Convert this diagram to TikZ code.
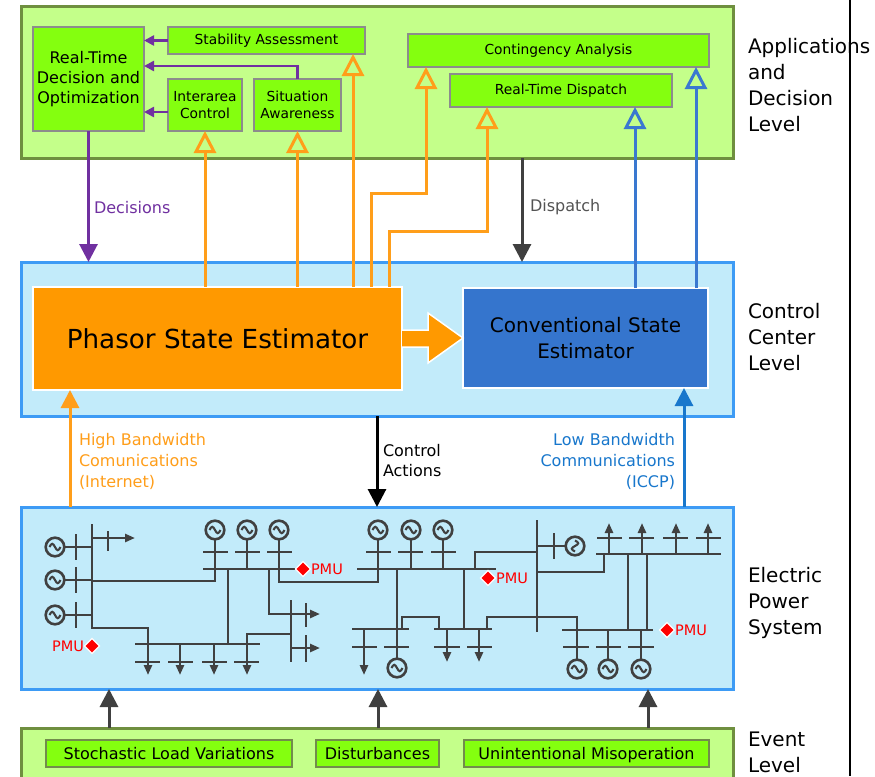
\documentclass[tikz,border=0pt]{standalone}
\usepackage{fontspec}
\setmainfont{DejaVu Sans}
\usetikzlibrary{arrows.meta}
\definecolor{appfill}{HTML}{C4FF8A}
\definecolor{appedge}{HTML}{6F8F3F}
\definecolor{boxfill}{HTML}{84FF0F}
\definecolor{boxedge}{HTML}{8C8C8C}
\definecolor{ccfill}{HTML}{C2EBFA}
\definecolor{ccedge}{HTML}{3D9BF5}
\definecolor{pseorange}{HTML}{FF9900}
\definecolor{cseblue}{HTML}{3575CD}
\definecolor{arrorange}{HTML}{FF9E1A}
\definecolor{arrblue}{HTML}{3A78D0}
\definecolor{lowblue}{HTML}{1877CC}
\definecolor{purp}{HTML}{7030A0}
\definecolor{dgray}{HTML}{404040}
\begin{document}
\begin{tikzpicture}[x=1pt,y=-1pt,
  every node/.style={inner sep=0pt,outer sep=0pt},
  container/.style={draw=#1,line width=3pt,rectangle},
  abox/.style={draw=boxedge,fill=boxfill,line width=2.4pt,rectangle,align=center,
    font=\fontsize{13.8}{17}\selectfont},
  ebox/.style={draw=appedge!80!gray,fill=boxfill,line width=2.4pt,rectangle,align=center,
    text height=13.5pt,text depth=2pt,font=\fontsize{16}{19}\selectfont},
  oarrow/.style={draw=arrorange,line width=3pt,-{Triangle[open,width=22pt,length=22pt]}},
  barrow/.style={draw=arrblue,line width=3pt,-{Triangle[open,width=22pt,length=22pt]}},
  parrow/.style={draw=purp,line width=2.4pt,-{Triangle[width=10pt,length=10pt]}},
  bigarrow/.style={line width=3pt,-{Triangle[width=18pt,length=18pt]}},
  lbl/.style={font=\fontsize{16}{21}\selectfont,align=left},
  lvl/.style={font=\fontsize{20}{26}\selectfont,align=left,anchor=west},
  pmutext/.style={text=red,font=\fontsize{14.5}{16}\selectfont},
  ps/.style={draw=dgray,line width=2.7pt},
  ld/.style={ps,-{Triangle[width=8pt,length=10pt]}},
  genr/.pic={\draw[ps,line width=2.6pt] (0,0) circle[radius=9.3pt];
    \draw[draw=dgray,line width=2.1pt] (-5.5,0) sin (-2.75,-3.2) cos (0,0) sin (2.75,3.2) cos (5.5,0);},
  pmu/.pic={\draw[fill=red,draw=white,line width=1.3pt] (-7.5,0)--(0,-7.5)--(7.5,0)--(0,7.5)--cycle;}
]
\useasboundingbox[fill=white] (0,0) rectangle (875,776);

% ---------- containers ----------
\node[container=appedge,fill=appfill,minimum width=712pt,minimum height=151pt] (app) at (377,82.5) {};
\node[container=ccedge,fill=ccfill,minimum width=712pt,minimum height=154pt] (cc) at (377,339) {};
\node[container=ccedge,fill=ccfill,minimum width=712pt,minimum height=182pt] (eps) at (377,598) {};
\node[container=appedge,fill=appfill,minimum width=712pt,minimum height=72pt] (event) at (377,764) {};

% ---------- application boxes ----------
\node[abox,minimum width=111pt,minimum height=104pt,font=\fontsize{16}{20}\selectfont] (rtdo) at (88.5,79) {Real-Time\\Decision and\\Optimization};
\node[abox,minimum width=197pt,minimum height=27pt] (stab) at (266.5,40.5) {Stability Assessment};
\node[abox,minimum width=74pt,minimum height=52pt] (inter) at (205,105) {Interarea\\Control};
\node[abox,minimum width=87pt,minimum height=52pt] (situ) at (297.5,105) {Situation\\Awareness};
\node[abox,minimum width=301pt,minimum height=33pt] (cont) at (558.5,50.5) {Contingency Analysis};
\node[abox,minimum width=222pt,minimum height=33pt] (rtd) at (561,90.5) {Real-Time Dispatch};

% ---------- control center ----------
\node[draw=white,line width=2pt,fill=pseorange,minimum width=369pt,minimum height=103pt,
  font=\fontsize{26.2}{30}\selectfont] (pse) at (217.5,338.5) {Phasor State Estimator};
\node[draw=white,line width=2pt,fill=cseblue,minimum width=245pt,minimum height=100pt,align=center,
  font=\fontsize{20}{26}\selectfont] (cse) at (585.5,338) {Conventional State\\Estimator};
\draw[fill=pseorange,draw=white,line width=1.5pt]
  (pse.east |- 0,330) -- (428,330) -- (428,313) -- (cse.west) -- (428,363) -- (428,347) -- (pse.east |- 0,347);

% ---------- event boxes ----------
\node[ebox,minimum width=246pt,minimum height=27pt] (slv) at (169,753.5) {Stochastic Load Variations};
\node[ebox,minimum width=123pt,minimum height=27pt] (dist) at (377.5,753.5) {Disturbances};
\node[ebox,minimum width=245pt,minimum height=27pt] (uni) at (586.5,753.5) {Unintentional Misoperation};

% ---------- purple arrows ----------
\draw[parrow] (stab.west) -- (stab.west -| rtdo.east);
\draw[parrow] (situ.north) |- (rtdo.east |- 0,66);
\draw[parrow] (inter.west |- 0,112) -- (rtdo.east |- 0,112);
\draw[bigarrow,draw=purp] (rtdo.south) -- (cc.north -| rtdo.south);
\node[lbl,text=purp,anchor=west] (declbl) at (94,208) {Decisions};

% ---------- dispatch ----------
\draw[bigarrow,draw=dgray] (522,0 |- app.south) -- (522,0 |- cc.north);
\node[lbl,text=dgray!90,anchor=west] (displbl) at (530,207) {Dispatch};

% ---------- orange arrows ----------
\draw[oarrow] (inter.south |- pse.north) -- (inter.south);
\draw[oarrow] (situ.south |- pse.north) -- (situ.south);
\draw[oarrow] (353,0 |- pse.north) -- (353,0 |- stab.south);
\draw[oarrow] (371,0 |- pse.north) -- (371,193) -- (426,193) -- (426,0 |- cont.south);
\draw[oarrow] (389,0 |- pse.north) -- (389,231) -- (487,231) -- (487,0 |- rtd.south);

% ---------- blue arrows ----------
\draw[barrow] (635,0 |- cse.north) -- (635,0 |- rtd.south);
\draw[barrow] (696,0 |- cse.north) -- (696,0 |- cont.south);

% ---------- communication arrows ----------
\draw[bigarrow,draw=arrorange] (70,0 |- eps.north) -- (70,0 |- pse.south);
\node[lbl,text=arrorange,anchor=west] (hbw) at (79,461) {High Bandwidth\\Comunications\\(Internet)};
\draw[bigarrow,draw=black] (377,0 |- cc.south) -- (377,0 |- eps.north);
\node[lbl,anchor=west,font=\fontsize{16}{20}\selectfont] (ctl) at (383,461) {Control\\Actions};
\draw[bigarrow,draw=lowblue] (684,0 |- eps.north) -- (684,0 |- cse.south);
\node[lbl,text=lowblue,anchor=east,align=right] (lbw) at (675,461) {Low Bandwidth\\Communications\\(ICCP)};

% ---------- event arrows ----------
\draw[bigarrow,draw=dgray] (109,0 |- event.north) -- (109,0 |- eps.south);
\draw[bigarrow,draw=dgray] (378,0 |- event.north) -- (378,0 |- eps.south);
\draw[bigarrow,draw=dgray] (648,0 |- event.north) -- (648,0 |- eps.south);

% ---------- level labels ----------
\coordinate (vtop) at (850,0);
\coordinate (vbot) at (850,776);
\draw[line width=2.2pt,black] (vtop) -- (vbot);
\node[lvl] (l1) at (748,85) {Applications\\and\\Decision\\Level};
\node[lvl] (l2) at (748,337.5) {Control\\Center\\Level};
\node[lvl] (l3) at (748,603) {Electric\\Power\\System};
\node[lvl] (l4) at (748,752.5) {Event\\Level};

% ---------- electric power system: left ----------
\pic at (55,547) {genr}; \pic at (55,580) {genr}; \pic at (55,615) {genr};
\draw[ps] (64,547) -- (92,547);
\draw[ps] (64,580) -- (92,580);
\draw[ps] (64,615) -- (92,615);
\draw[ps] (76,534) -- (76,560);
\draw[ps] (76,567) -- (76,593);
\draw[ps] (76,602) -- (76,628);
\draw[ld] (92,524) -- (92,628) -- (148,628) -- (148,675);
\draw[ld] (92,538) -- (135,538);
\draw[ps] (108,531) -- (108,551);
\draw[ps] (92,581) -- (215,581) -- (215,569);
\draw[ps] (135,644) -- (260,644);
\draw[ld] (180,644) -- (180,675);
\draw[ld] (214,644) -- (214,675);
\draw[ld] (291,634) -- (247,634) -- (247,675);
\draw[ps] (135,662) -- (160,662);
\draw[ps] (168,662) -- (193,662);
\draw[ps] (202,662) -- (227,662);
\draw[ps] (234,662) -- (259,662);
\draw[ps] (228,644) -- (228,569);
\draw[ps] (203,569) -- (295,569);
\pic at (215,530) {genr}; \pic at (247,530) {genr}; \pic at (279,530) {genr};
\draw[ps] (215,539) -- (215,569);
\draw[ps] (247,539) -- (247,569);
\draw[ps] (279,539) -- (279,582) -- (378,582) -- (378,539);
\draw[ps] (203,552) -- (228,552);
\draw[ps] (235,552) -- (260,552);
\draw[ps] (267,552) -- (292,552);
\draw[ld] (269,569) -- (269,614) -- (320,614);
\draw[ps] (291,600) -- (291,662);
\draw[ld] (291,648) -- (320,648);
\draw[ps] (306,603) -- (306,627);
\draw[ps] (306,635) -- (306,662);
\pic at (303,569) {pmu};
\node[pmutext,anchor=west] (pmu1) at (311,569) {PMU};
\pic at (92,646) {pmu};
\node[pmutext,anchor=east] (pmu0) at (84,646) {PMU};

% ---------- middle ----------
\pic at (378,530) {genr}; \pic at (411,530) {genr}; \pic at (443,530) {genr};
\draw[ps] (411,539) -- (411,569);
\draw[ps] (443,539) -- (443,569);
\draw[ps] (366,552) -- (391,552);
\draw[ps] (398,552) -- (423,552);
\draw[ps] (431,552) -- (456,552);
\draw[ps] (357,569) -- (496,569);
\draw[ps] (397,569) -- (397,659);
\pic at (397,668) {genr};
\draw[ps] (384,647) -- (409,647);
\draw[ps] (352,629) -- (409,629);
\draw[ld] (364,629) -- (364,675);
\draw[ps] (352,647) -- (377,647);
\draw[ps] (402,629) -- (402,617) -- (439,617) -- (439,629);
\draw[ps] (434,629) -- (492,629);
\draw[ps] (464,569) -- (464,629);
\draw[ld] (447,629) -- (447,662);
\draw[ld] (479,629) -- (479,662);
\draw[ps] (434,647) -- (460,647);
\draw[ps] (467,647) -- (492,647);
\draw[ps] (475,569) -- (475,552) -- (537,552);
\draw[ps] (487,629) -- (487,617) -- (537,617);
\draw[ps] (537,520) -- (537,632);
\pic at (488,578) {pmu};
\node[pmutext,anchor=west] (pmu2) at (496,578) {PMU};

% ---------- right ----------
\draw[ps] (537,546) -- (566,546);
\pic[rotate=90] at (575,546) {genr};
\draw[ps] (554,533) -- (554,559);
\draw[ps] (537,572) -- (604,572) -- (604,554);
\draw[ps] (596,554) -- (721,554);
\draw[ld] (609,554) -- (609,523);
\draw[ld] (642,554) -- (642,523);
\draw[ld] (676,554) -- (676,523);
\draw[ld] (708,554) -- (708,523);
\draw[ps] (597,538) -- (622,538);
\draw[ps] (629,538) -- (654,538);
\draw[ps] (663,538) -- (688,538);
\draw[ps] (696,538) -- (721,538);
\draw[ps] (628,554) -- (628,630);
\draw[ps] (647,554) -- (647,630);
\draw[ps] (562,630) -- (653,630);
\draw[ps] (537,617) -- (577,617) -- (577,660);
\draw[ps] (608,630) -- (608,660);
\draw[ps] (641,630) -- (641,660);
\pic at (577,669) {genr}; \pic at (608,669) {genr}; \pic at (641,669) {genr};
\draw[ps] (563,647) -- (589,647);
\draw[ps] (596,647) -- (621,647);
\draw[ps] (628,647) -- (654,647);
\pic at (667,630) {pmu};
\node[pmutext,anchor=west] (pmu3) at (675,630) {PMU};
\end{tikzpicture}
\end{document}
